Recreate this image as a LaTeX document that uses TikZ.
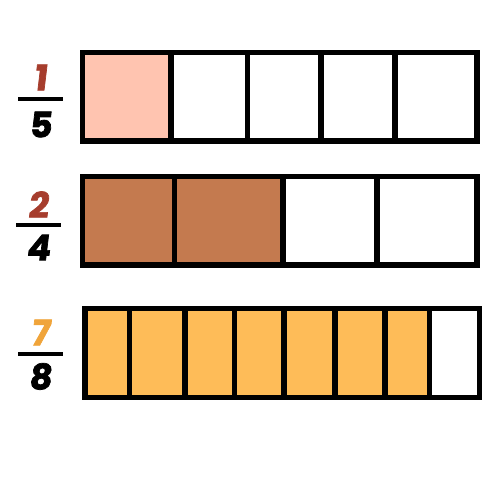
\documentclass[tikz,border=0pt]{standalone}
\usepackage{fontspec}
\newfontfamily\numfont[FakeSlant=0.12,BoldFeatures={FakeBold=2}]{Poppins}
\definecolor{rust}{HTML}{A63D2D}
\definecolor{amber}{HTML}{F0A43A}
\definecolor{peach}{HTML}{FFC4B0}
\definecolor{clay}{HTML}{C47A4F}
\definecolor{apricot}{HTML}{FEBC58}

\begin{document}
\begin{tikzpicture}[x=0.02cm,y=-0.02cm,
		num/.style={font=\numfont\bfseries\fontsize{20}{20}\selectfont,inner sep=0pt},
		bar/.style={fill=black,inner sep=0pt,minimum width=0.9cm,minimum height=0.08cm},
		cell/.style={draw=black,line width=2.9pt}]
			\useasboundingbox (0,0) rectangle (500,500);
			% one fifth
			\draw (40,77.5) node [num,text=rust] (n1) {1};
			\draw (40.5,99) node [bar] (b1) {};
			\draw (40,124.5) node [num] (d1) {5};
			\foreach \l/\r/\c in {82.5/171/peach,171/247.5/white,247.5/321/white,321/395/white,395/477/white}
				\draw [cell,fill=\c] (\l,52.5) rectangle (\r,141);
			% two quarters
			\draw (38,204.5) node [num,text=rust] (n2) {2};
			\draw (38.5,225) node [bar] (b2) {};
			\draw (38,247.5) node [num] (d2) {4};
			\foreach \l/\r/\c in {82.5/174.5/clay,174.5/283/clay,283/377/white,377/477/white}
				\draw [cell,fill=\c] (\l,176.5) rectangle (\r,265);
			% seven eighths
			\draw (40,332.5) node [num,text=amber] (n3) {7};
			\draw (40.5,354) node [bar] (b3) {};
			\draw (40,376.5) node [num] (d3) {8};
			\foreach \l/\r/\c in {85/129.5/apricot,129.5/185/apricot,185/234.5/apricot,234.5/284/apricot,284/335/apricot,335/385/apricot,385/429.5/apricot,429.5/479.5/white}
				\draw [cell,fill=\c] (\l,308.5) rectangle (\r,397.5);
		\end{tikzpicture}
\end{document}
